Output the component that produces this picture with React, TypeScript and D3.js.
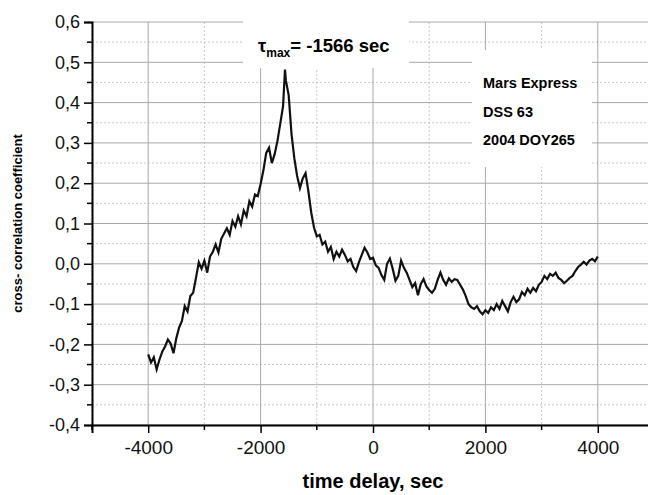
import React, { useEffect, useRef } from 'react';
import * as d3 from 'd3';

// time delay (sec) and cross-correlation coefficient
const delays = [
  -4000, -3950, -3900, -3850, -3800, -3750, -3700, -3650, -3600, -3550,
  -3500, -3450, -3400, -3350, -3300, -3250, -3200, -3150, -3100, -3050,
  -3000, -2950, -2900, -2850, -2800, -2750, -2700, -2650, -2600, -2550,
  -2500, -2450, -2400, -2350, -2300, -2250, -2200, -2150, -2100, -2050,
  -2000, -1950, -1900, -1850, -1800, -1750, -1700, -1650, -1600, -1566,
  -1550, -1500, -1450, -1400, -1350, -1300, -1250, -1200, -1150, -1100,
  -1050, -1000, -950, -900, -850, -800, -750, -700, -650, -600,
  -550, -500, -450, -400, -350, -300, -250, -200, -150, -100,
  -50, 0, 50, 100, 150, 200, 250, 300, 350, 400,
  450, 500, 550, 600, 650, 700, 750, 800, 850, 900,
  950, 1000, 1050, 1100, 1150, 1200, 1250, 1300, 1350, 1400,
  1450, 1500, 1550, 1600, 1650, 1700, 1750, 1800, 1850, 1900,
  1950, 2000, 2050, 2100, 2150, 2200, 2250, 2300, 2350, 2400,
  2450, 2500, 2550, 2600, 2650, 2700, 2750, 2800, 2850, 2900,
  2950, 3000, 3050, 3100, 3150, 3200, 3250, 3300, 3350, 3400,
  3450, 3500, 3550, 3600, 3650, 3700, 3750, 3800, 3850, 3900,
  3950, 4000
];

const coeffs = [
  -0.225, -0.245, -0.232, -0.262, -0.238, -0.218, -0.205, -0.188, -0.198, -0.222,
  -0.185, -0.158, -0.142, -0.105, -0.118, -0.080, -0.072, -0.035, 0.004, -0.012,
  0.008, -0.022, 0.018, 0.030, 0.048, 0.028, 0.062, 0.075, 0.088, 0.072,
  0.106, 0.092, 0.118, 0.098, 0.132, 0.118, 0.155, 0.142, 0.172, 0.168,
  0.198, 0.232, 0.275, 0.288, 0.250, 0.272, 0.305, 0.348, 0.392, 0.482,
  0.455, 0.418, 0.322, 0.262, 0.218, 0.188, 0.212, 0.225, 0.180, 0.128,
  0.090, 0.068, 0.072, 0.048, 0.055, 0.030, 0.042, 0.012, 0.030, 0.018,
  0.035, 0.022, 0.006, 0.012, -0.008, -0.018, 0.004, 0.022, 0.040, 0.028,
  0.012, 0.015, -0.004, -0.010, -0.028, -0.040, 0.000, 0.013, -0.012, -0.042,
  -0.030, 0.008, -0.010, -0.022, -0.040, -0.058, -0.048, -0.078, -0.050, -0.038,
  -0.056, -0.065, -0.072, -0.062, -0.040, -0.022, -0.040, -0.052, -0.036, -0.045,
  -0.038, -0.040, -0.052, -0.064, -0.080, -0.100, -0.108, -0.112, -0.105, -0.118,
  -0.125, -0.115, -0.122, -0.108, -0.115, -0.100, -0.112, -0.092, -0.105, -0.118,
  -0.095, -0.082, -0.095, -0.088, -0.070, -0.078, -0.062, -0.072, -0.060, -0.068,
  -0.052, -0.045, -0.030, -0.038, -0.025, -0.030, -0.022, -0.035, -0.040, -0.048,
  -0.042, -0.035, -0.030, -0.018, -0.008, -0.002, 0.005, -0.002, 0.008, 0.012,
  0.006, 0.018
];

const xTicks = [-4000, -2000, 0, 2000, 4000];
const xMinorTicks = [-5000, -3000, -1000, 1000, 3000, 5000];
const yTicks = [-0.4, -0.3, -0.2, -0.1, 0, 0.1, 0.2, 0.3, 0.4, 0.5, 0.6];
const yMinorTicks = [-0.35, -0.25, -0.15, -0.05, 0.05, 0.15, 0.25, 0.35, 0.45, 0.55];
const infoLines = ['Mars Express', 'DSS 63', '2004 DOY265'];

const font = 'Liberation Sans, Arial, Helvetica, sans-serif';

function Chart() {
  const ref = useRef<SVGSVGElement>(null);

  useEffect(() => {
    const width = 648;
    const height = 495;
    const svg = d3.select(ref.current);
    svg.selectAll('*').remove();

    const xScale = d3.scaleLinear().domain([-5000, 5000]).range([92, 654]);
    const yScale = d3.scaleLinear().domain([-0.4, 0.6]).range([425, 22]);
    const top = yScale(0.6);
    const bottom = yScale(-0.4);
    const left = xScale(-5000);

    svg.append('rect').attr('width', width).attr('height', height).attr('fill', 'white');

    // grid
    const grid = svg.append('g');
    grid.selectAll('.ym').data(yMinorTicks).enter().append('line')
      .attr('x1', left).attr('x2', width)
      .attr('y1', d => yScale(d)).attr('y2', d => yScale(d))
      .attr('stroke', '#c8c8c8').attr('stroke-dasharray', '2,2');
    grid.selectAll('.xm').data(xMinorTicks).enter().append('line')
      .attr('x1', d => xScale(d)).attr('x2', d => xScale(d))
      .attr('y1', top).attr('y2', bottom)
      .attr('stroke', '#c8c8c8').attr('stroke-dasharray', '2,2');
    grid.selectAll('.yg').data(yTicks).enter().append('line')
      .attr('x1', left).attr('x2', width)
      .attr('y1', d => yScale(d)).attr('y2', d => yScale(d))
      .attr('stroke', '#a8a8a8');
    grid.selectAll('.xg').data(xTicks).enter().append('line')
      .attr('x1', d => xScale(d)).attr('x2', d => xScale(d))
      .attr('y1', top).attr('y2', bottom)
      .attr('stroke', '#a8a8a8');

    // white boxes behind the annotations
    svg.append('rect').attr('x', 243).attr('y', 20).attr('width', 166).attr('height', 48).attr('fill', 'white');
    svg.append('rect').attr('x', 472).attr('y', 50).attr('width', 120).attr('height', 117).attr('fill', 'white');

    // curve
    const pts = delays.map((d, i) => [d, coeffs[i]] as [number, number]);
    const line = d3.line<[number, number]>()
      .x(d => xScale(d[0]))
      .y(d => yScale(d[1]));
    svg.append('path')
      .datum(pts)
      .attr('d', line)
      .attr('fill', 'none')
      .attr('stroke', '#111')
      .attr('stroke-width', 2.2)
      .attr('stroke-linejoin', 'miter');

    // axes
    const yAxis = d3.axisLeft(yScale)
      .tickValues(yTicks)
      .tickSize(8)
      .tickPadding(4)
      .tickFormat(d => d3.format('.1f')(d as number).replace('.', ',').replace('−', '-'));
    const gy = svg.append('g').attr('transform', 'translate(' + [left, 0] + ')').call(yAxis);
    gy.selectAll('text').attr('font-size', 18).attr('font-family', font).attr('fill', '#111');
    gy.selectAll('.tick line').attr('stroke-width', 1.5);
    gy.selectAll('.ymt').data(yMinorTicks).enter().append('line')
      .attr('x1', -5).attr('x2', 0)
      .attr('y1', d => yScale(d)).attr('y2', d => yScale(d))
      .attr('stroke', 'black').attr('stroke-width', 1.5);

    const xAxis = d3.axisBottom(xScale)
      .tickValues(xTicks)
      .tickSize(8)
      .tickPadding(8)
      .tickFormat(d => String(d));
    const gx = svg.append('g').attr('transform', 'translate(' + [0, bottom] + ')').call(xAxis);
    gx.selectAll('text').attr('font-size', 19).attr('font-family', font).attr('fill', '#111');
    gx.selectAll('.tick line').attr('stroke-width', 1.5);
    gx.selectAll('.xmt').data(xMinorTicks).enter().append('line')
      .attr('x1', d => xScale(d)).attr('x2', d => xScale(d))
      .attr('y1', 0).attr('y2', 5)
      .attr('stroke', 'black').attr('stroke-width', 1.5);

    gx.select('.domain').attr('stroke-width', 2);
    gy.select('.domain').attr('stroke-width', 2);

    // axis titles
    svg.append('text')
      .attr('x', xScale(0))
      .attr('y', 488)
      .attr('text-anchor', 'middle')
      .attr('font-family', font)
      .attr('font-weight', 'bold')
      .attr('font-size', 20)
      .text('time delay, sec');

    svg.append('text')
      .attr('transform', 'translate(22,' + (top + bottom) / 2 + ') rotate(-90)')
      .attr('text-anchor', 'middle')
      .attr('font-family', font)
      .attr('font-weight', 'bold')
      .attr('font-size', 13)
      .text('cross- correlation coefficient');

    // tau annotation
    const tau = svg.append('text')
      .attr('x', 258)
      .attr('y', 52)
      .attr('font-family', font)
      .attr('font-weight', 'bold')
      .attr('font-size', 18.5);
    tau.append('tspan').text('τ');
    tau.append('tspan').attr('font-size', 12).attr('dy', 5).text('max');
    tau.append('tspan').attr('dy', -5).text('= -1566 sec');

    svg.selectAll('.info').data(infoLines).enter().append('text')
      .attr('x', 483)
      .attr('y', (d, i) => 88 + i * 28.5)
      .attr('font-family', font)
      .attr('font-weight', 'bold')
      .attr('font-size', 14.5)
      .text(d => d);
  }, []);

  return (
    <svg ref={ref} width={648} height={495}
      style={{ position: 'absolute', left: 0, top: 0, display: 'block' }} />
  );
}

export default function App() {
  return <Chart />;
}
